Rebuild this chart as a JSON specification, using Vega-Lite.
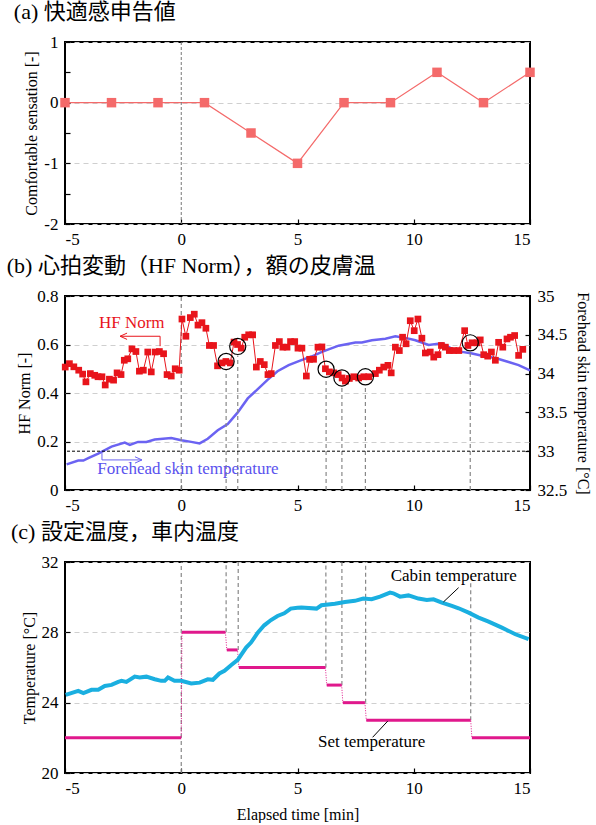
{
  "$schema": "https://vega.github.io/schema/vega-lite/v6.json",
  "padding": {"left": 5, "top": 0, "right": 0, "bottom": 0},
  "spacing": 6,
  "config": {
    "font": "Liberation Serif",
    "view": {"stroke": "black", "strokeWidth": 2},
    "axis": {
      "labelFont": "Liberation Serif", "labelFontSize": 17, "labelColor": "black",
      "titleFont": "Liberation Serif", "titleFontSize": 16, "titleFontWeight": "normal", "titleColor": "black",
      "domain": false, "tickColor": "black", "tickSize": -5, "tickWidth": 1.2, "labelPadding": 12,
      "gridColor": "#cfcfcf", "gridDash": [5, 4], "gridWidth": 1
    },
    "axisX": {"labelFont": "Liberation Serif"},
    "axisY": {"labelFont": "Liberation Serif"},
    "title": {"font": "'Liberation Serif', 'Noto Sans CJK JP'", "fontSize": 22, "fontWeight": "normal", "anchor": "start", "frame": "bounds", "offset": 9, "color": "black", "dx": -10}
  },
  "vconcat": [
    {
      "title": {"text": "(a) 快適感申告値"},
      "width": 465, "height": 182,
      "layer": [
        {
          "data": {"values": [{"t": -5, "v": 0}, {"t": -3, "v": 0}, {"t": -1, "v": 0}, {"t": 1, "v": 0}, {"t": 3, "v": -0.5}, {"t": 5, "v": -1}, {"t": 7, "v": 0}, {"t": 9, "v": 0}, {"t": 11, "v": 0.5}, {"t": 13, "v": 0}, {"t": 15, "v": 0.5}]},
          "mark": {"type": "line", "color": "#F46A6A", "strokeWidth": 1.2, "point": {"shape": "square", "size": 90, "filled": true, "color": "#F46A6A", "opacity": 1}},
          "encoding": {
            "x": {"field": "t", "type": "quantitative", "scale": {"domain": [-5, 15], "nice": false}, "axis": {"values": [-5, 0, 5, 10, 15], "labelExpr": "'' + datum.value", "labelFont": "Liberation Serif", "grid": false, "title": null}},
            "y": {"field": "v", "type": "quantitative", "scale": {"domain": [-2, 1], "nice": false}, "axis": {"values": [-2, -1.5, -1, -0.5, 0, 0.5, 1], "labelFont": "Liberation Serif", "labelExpr": "datum.value % 1 == 0 ? ('' + datum.value) : ''", "gridOpacity": {"condition": {"test": "datum.value % 1 != 0", "value": 0}, "value": 1}, "title": "Comfortable  sensation [-]"}}
          }
        },
        {
          "data": {"values": [{"t": 0}]},
          "mark": {"type": "rule", "color": "#777777", "strokeDash": [3, 2], "strokeWidth": 1},
          "encoding": {"x": {"field": "t", "type": "quantitative"}}
        }
      ]
    },
    {
      "title": {"text": "(b) 心拍変動（HF Norm），額の皮膚温"},
      "width": 465, "height": 194,
      "layer": [
        {
          "layer": [
            {
              "data": {"values": [
                {"t": -4.93, "f": 32.83}, {"t": -4.43, "f": 32.88}, {"t": -4.21, "f": 32.88}, {"t": -4.0, "f": 32.91}, {"t": -3.57, "f": 32.97},
                {"t": -3.0, "f": 33.06}, {"t": -2.43, "f": 33.11}, {"t": -2.21, "f": 33.08}, {"t": -1.86, "f": 33.12}, {"t": -1.5, "f": 33.12},
                {"t": -1.14, "f": 33.15}, {"t": -0.43, "f": 33.17}, {"t": 0.0, "f": 33.14}, {"t": 0.43, "f": 33.12}, {"t": 0.79, "f": 33.1},
                {"t": 1.14, "f": 33.16}, {"t": 1.57, "f": 33.27}, {"t": 2.0, "f": 33.35}, {"t": 2.43, "f": 33.5}, {"t": 2.86, "f": 33.68},
                {"t": 3.29, "f": 33.8}, {"t": 3.71, "f": 33.92}, {"t": 4.14, "f": 34.03}, {"t": 4.62, "f": 34.11}, {"t": 5.14, "f": 34.17},
                {"t": 5.6, "f": 34.22}, {"t": 6.05, "f": 34.28}, {"t": 6.77, "f": 34.36}, {"t": 7.49, "f": 34.4}, {"t": 7.77, "f": 34.4},
                {"t": 8.2, "f": 34.43}, {"t": 8.78, "f": 34.45}, {"t": 9.21, "f": 34.48}, {"t": 9.64, "f": 34.46}, {"t": 10.07, "f": 34.43},
                {"t": 10.64, "f": 34.37}, {"t": 11.21, "f": 34.39}, {"t": 11.65, "f": 34.32}, {"t": 12.08, "f": 34.28}, {"t": 12.51, "f": 34.26},
                {"t": 12.94, "f": 34.23}, {"t": 13.51, "f": 34.2}, {"t": 14.08, "f": 34.15}, {"t": 14.51, "f": 34.11}, {"t": 15.0, "f": 34.04}
              ]},
              "mark": {"type": "line", "color": "#6B63F2", "strokeWidth": 2.5},
              "encoding": {
                "x": {"field": "t", "type": "quantitative", "scale": {"domain": [-5, 15], "nice": false}, "axis": {"values": [-5, 0, 5, 10, 15], "labelFont": "Liberation Serif", "labelExpr": "'' + datum.value", "grid": false, "title": null}},
                "y": {"field": "f", "type": "quantitative", "scale": {"domain": [32.5, 35], "nice": false, "zero": false}, "axis": {"orient": "right", "values": [32.5, 33, 33.5, 34, 34.5, 35], "labelFont": "Liberation Serif", "labelExpr": "'' + datum.value", "grid": false, "titlePadding": 8, "title": "Forehead  skin  temperature [°C]"}}
              }
            }
          ]
        },
        {
          "layer": [
            {
              "data": {"values": [{"t": 0, "y1": 0, "y2": 0.8}, {"t": 1.93, "y1": 0, "y2": 0.493}, {"t": 2.43, "y1": 0, "y2": 0.555}, {"t": 6.23, "y1": 0, "y2": 0.461}, {"t": 6.91, "y1": 0, "y2": 0.425}, {"t": 7.92, "y1": 0, "y2": 0.43}, {"t": 12.43, "y1": 0, "y2": 0.57}]},
              "mark": {"type": "rule", "color": "#888888", "strokeDash": [4, 3], "strokeWidth": 1.2},
              "encoding": {
                "x": {"field": "t", "type": "quantitative"},
                "y": {"field": "y1", "type": "quantitative", "scale": {"domain": [0, 0.8], "nice": false}, "axis": {"orient": "left", "values": [0, 0.1, 0.2, 0.3, 0.4, 0.5, 0.6, 0.7, 0.8], "labelFont": "Liberation Serif", "labelExpr": "'' + datum.value", "grid": true, "title": "HF Norm [-]"}},
                "y2": {"field": "y2"}
              }
            },
            {
              "data": {"values": [{"v": 0.16}]},
              "mark": {"type": "rule", "color": "black", "strokeDash": [3, 2], "strokeWidth": 1},
              "encoding": {"y": {"field": "v", "type": "quantitative"}}
            },
            {
              "data": {"values": [
                {"t": -4.99, "v": 0.507}, {"t": -4.81, "v": 0.521}, {"t": -4.62, "v": 0.508}, {"t": -4.41, "v": 0.494}, {"t": -4.24, "v": 0.478},
                {"t": -4.1, "v": 0.446}, {"t": -3.91, "v": 0.48}, {"t": -3.72, "v": 0.473}, {"t": -3.58, "v": 0.467}, {"t": -3.41, "v": 0.467},
                {"t": -3.27, "v": 0.433}, {"t": -3.09, "v": 0.457}, {"t": -2.91, "v": 0.453}, {"t": -2.76, "v": 0.483}, {"t": -2.59, "v": 0.476},
                {"t": -2.45, "v": 0.535}, {"t": -2.3, "v": 0.541}, {"t": -2.12, "v": 0.582}, {"t": -1.95, "v": 0.571}, {"t": -1.8, "v": 0.49},
                {"t": -1.63, "v": 0.494}, {"t": -1.44, "v": 0.569}, {"t": -1.29, "v": 0.487}, {"t": -1.12, "v": 0.569}, {"t": -0.94, "v": 0.571},
                {"t": -0.76, "v": 0.562}, {"t": -0.61, "v": 0.476}, {"t": -0.43, "v": 0.47}, {"t": -0.26, "v": 0.5}, {"t": -0.09, "v": 0.494},
                {"t": 0.03, "v": 0.705}, {"t": 0.2, "v": 0.634}, {"t": 0.39, "v": 0.711}, {"t": 0.56, "v": 0.725}, {"t": 0.72, "v": 0.68},
                {"t": 0.89, "v": 0.69}, {"t": 1.06, "v": 0.667}, {"t": 1.21, "v": 0.596}, {"t": 1.39, "v": 0.596}, {"t": 1.56, "v": 0.512},
                {"t": 1.75, "v": 0.524}, {"t": 1.92, "v": 0.53}, {"t": 2.11, "v": 0.524}, {"t": 2.27, "v": 0.61}, {"t": 2.42, "v": 0.6},
                {"t": 2.58, "v": 0.585}, {"t": 2.73, "v": 0.63}, {"t": 2.9, "v": 0.64}, {"t": 3.07, "v": 0.64}, {"t": 3.23, "v": 0.507},
                {"t": 3.4, "v": 0.53}, {"t": 3.57, "v": 0.517}, {"t": 3.73, "v": 0.476}, {"t": 3.87, "v": 0.48}, {"t": 4.05, "v": 0.596},
                {"t": 4.22, "v": 0.612}, {"t": 4.37, "v": 0.589}, {"t": 4.55, "v": 0.589}, {"t": 4.7, "v": 0.612}, {"t": 4.88, "v": 0.612},
                {"t": 5.02, "v": 0.585}, {"t": 5.19, "v": 0.585}, {"t": 5.38, "v": 0.47}, {"t": 5.52, "v": 0.539}, {"t": 5.69, "v": 0.539},
                {"t": 5.88, "v": 0.589}, {"t": 6.05, "v": 0.59}, {"t": 6.2, "v": 0.5}, {"t": 6.37, "v": 0.487}, {"t": 6.56, "v": 0.483},
                {"t": 6.75, "v": 0.476}, {"t": 6.92, "v": 0.462}, {"t": 7.06, "v": 0.449}, {"t": 7.23, "v": 0.46}, {"t": 7.42, "v": 0.467},
                {"t": 7.63, "v": 0.462}, {"t": 7.85, "v": 0.467}, {"t": 8.06, "v": 0.467}, {"t": 8.35, "v": 0.48}, {"t": 8.52, "v": 0.494},
                {"t": 8.71, "v": 0.507}, {"t": 8.89, "v": 0.514}, {"t": 9.03, "v": 0.483}, {"t": 9.21, "v": 0.589}, {"t": 9.38, "v": 0.575},
                {"t": 9.52, "v": 0.63}, {"t": 9.67, "v": 0.603}, {"t": 9.85, "v": 0.698}, {"t": 10.02, "v": 0.657}, {"t": 10.18, "v": 0.705},
                {"t": 10.35, "v": 0.626}, {"t": 10.5, "v": 0.565}, {"t": 10.71, "v": 0.569}, {"t": 10.86, "v": 0.548}, {"t": 11.04, "v": 0.558},
                {"t": 11.19, "v": 0.596}, {"t": 11.36, "v": 0.589}, {"t": 11.53, "v": 0.575}, {"t": 11.72, "v": 0.575}, {"t": 11.94, "v": 0.575},
                {"t": 12.19, "v": 0.657}, {"t": 12.33, "v": 0.596}, {"t": 12.51, "v": 0.607}, {"t": 12.72, "v": 0.607}, {"t": 12.86, "v": 0.619},
                {"t": 13.01, "v": 0.558}, {"t": 13.18, "v": 0.552}, {"t": 13.34, "v": 0.569}, {"t": 13.51, "v": 0.535}, {"t": 13.65, "v": 0.609},
                {"t": 13.83, "v": 0.589}, {"t": 14.01, "v": 0.623}, {"t": 14.16, "v": 0.63}, {"t": 14.34, "v": 0.637}, {"t": 14.51, "v": 0.555},
                {"t": 14.69, "v": 0.58}
              ]},
              "mark": {"type": "line", "color": "#E8141B", "strokeWidth": 1, "point": {"shape": "square", "size": 45, "filled": true, "color": "#E8141B", "opacity": 1}},
              "encoding": {
                "x": {"field": "t", "type": "quantitative"},
                "y": {"field": "v", "type": "quantitative"}
              }
            },
            {
              "data": {"values": [{"t": 1.93, "v": 0.53}, {"t": 2.43, "v": 0.592}, {"t": 6.23, "v": 0.498}, {"t": 6.91, "v": 0.462}, {"t": 7.92, "v": 0.467}, {"t": 12.43, "v": 0.607}]},
              "mark": {"type": "point", "shape": "circle", "size": 260, "filled": false, "stroke": "black", "strokeWidth": 1.2, "opacity": 1},
              "encoding": {
                "x": {"field": "t", "type": "quantitative"},
                "y": {"field": "v", "type": "quantitative"}
              }
            },
            {
              "data": {"values": [
                {"g": "hf", "o": 1, "t": -2.63, "v": 0.634}, {"g": "hf", "o": 2, "t": -0.91, "v": 0.634}, {"g": "hf", "o": 3, "t": -0.91, "v": 0.593},
                {"g": "hfh", "o": 1, "t": -2.33, "v": 0.647}, {"g": "hfh", "o": 2, "t": -2.63, "v": 0.634}, {"g": "hfh", "o": 3, "t": -2.33, "v": 0.621}
              ]},
              "mark": {"type": "line", "color": "#E8141B", "strokeWidth": 1},
              "encoding": {
                "x": {"field": "t", "type": "quantitative"},
                "y": {"field": "v", "type": "quantitative"},
                "detail": {"field": "g"},
                "order": {"field": "o"}
              }
            },
            {
              "data": {"values": [
                {"g": "fh", "o": 1, "t": -3.41, "v": 0.152}, {"g": "fh", "o": 2, "t": -3.41, "v": 0.124}, {"g": "fh", "o": 3, "t": -1.69, "v": 0.124},
                {"g": "fhh", "o": 1, "t": -1.99, "v": 0.137}, {"g": "fhh", "o": 2, "t": -1.69, "v": 0.124}, {"g": "fhh", "o": 3, "t": -1.99, "v": 0.111}
              ]},
              "mark": {"type": "line", "color": "#6B63F2", "strokeWidth": 1},
              "encoding": {
                "x": {"field": "t", "type": "quantitative"},
                "y": {"field": "v", "type": "quantitative"},
                "detail": {"field": "g"},
                "order": {"field": "o"}
              }
            },
            {
              "data": {"values": [{"t": -2.13, "v": 0.69, "label": "HF Norm", "c": "red"}, {"t": 0.29, "v": 0.087, "label": "Forehead  skin  temperature", "c": "blue"}]},
              "mark": {"type": "text", "font": "Liberation Serif", "fontSize": 17, "baseline": "middle", "align": "center"},
              "encoding": {
                "x": {"field": "t", "type": "quantitative"},
                "y": {"field": "v", "type": "quantitative"},
                "text": {"field": "label"},
                "color": {"field": "c", "type": "nominal", "scale": {"domain": ["red", "blue"], "range": ["#E8141B", "#5A52EE"]}, "legend": null}
              }
            }
          ]
        }
      ],
      "resolve": {"scale": {"y": "independent"}}
    },
    {
      "title": {"text": "(c) 設定温度，車内温度"},
      "width": 465, "height": 211,
      "layer": [
        {
          "data": {"values": [{"t": 0, "y1": 20, "y2": 32}, {"t": 1.93, "y1": 28, "y2": 32}, {"t": 2.45, "y1": 27, "y2": 32}, {"t": 6.22, "y1": 26, "y2": 32}, {"t": 6.91, "y1": 25, "y2": 32}, {"t": 7.93, "y1": 24, "y2": 32}, {"t": 12.45, "y1": 23, "y2": 30.8}]},
          "mark": {"type": "rule", "color": "#888888", "strokeDash": [4, 3], "strokeWidth": 1.2},
          "encoding": {
            "x": {"field": "t", "type": "quantitative", "scale": {"domain": [-5, 15], "nice": false}, "axis": {"values": [-5, 0, 5, 10, 15], "labelFont": "Liberation Serif", "labelExpr": "'' + datum.value", "grid": false, "title": "Elapsed  time [min]", "titlePadding": 10}},
            "y": {"field": "y1", "type": "quantitative", "scale": {"domain": [20, 32], "nice": false, "zero": false}, "axis": {"values": [20, 22, 24, 26, 28, 30, 32], "labelFont": "Liberation Serif", "grid": true, "title": "Temperature [°C]"}},
            "y2": {"field": "y2"}
          }
        },
        {
          "data": {"values": [
            {"o": 1, "t": -5, "s": 22}, {"o": 2, "t": 0, "s": 22}, {"o": 3, "t": 0.03, "s": 28}, {"o": 4, "t": 1.9, "s": 28}, {"o": 5, "t": 1.96, "s": 27},
            {"o": 6, "t": 2.42, "s": 27}, {"o": 7, "t": 2.48, "s": 26}, {"o": 8, "t": 6.2, "s": 26}, {"o": 9, "t": 6.26, "s": 25}, {"o": 10, "t": 6.9, "s": 25},
            {"o": 11, "t": 6.95, "s": 24}, {"o": 12, "t": 7.9, "s": 24}, {"o": 13, "t": 7.96, "s": 23}, {"o": 14, "t": 12.45, "s": 23}, {"o": 15, "t": 12.5, "s": 22},
            {"o": 16, "t": 15, "s": 22}
          ]},
          "mark": {"type": "line", "color": "#E0188C", "strokeWidth": 1, "strokeDash": [1, 1.5]},
          "encoding": {
            "x": {"field": "t", "type": "quantitative"},
            "y": {"field": "s", "type": "quantitative"},
            "order": {"field": "o"}
          }
        },
        {
          "data": {"values": [
            {"a": -5, "b": 0, "s": 22}, {"a": 0.03, "b": 1.9, "s": 28}, {"a": 1.96, "b": 2.42, "s": 27}, {"a": 2.48, "b": 6.2, "s": 26},
            {"a": 6.26, "b": 6.9, "s": 25}, {"a": 6.95, "b": 7.9, "s": 24}, {"a": 7.96, "b": 12.45, "s": 23}, {"a": 12.5, "b": 15, "s": 22}
          ]},
          "mark": {"type": "rule", "color": "#E0188C", "strokeWidth": 3},
          "encoding": {
            "x": {"field": "a", "type": "quantitative"},
            "x2": {"field": "b"},
            "y": {"field": "s", "type": "quantitative"}
          }
        },
        {
          "data": {"values": [
            {"t": -4.97, "c": 24.44}, {"t": -4.43, "c": 24.67}, {"t": -4.21, "c": 24.54}, {"t": -3.86, "c": 24.73}, {"t": -3.57, "c": 24.73},
            {"t": -3.29, "c": 24.95}, {"t": -3.0, "c": 25.01}, {"t": -2.71, "c": 25.18}, {"t": -2.57, "c": 25.24}, {"t": -2.36, "c": 25.18},
            {"t": -2.0, "c": 25.48}, {"t": -1.79, "c": 25.43}, {"t": -1.5, "c": 25.48}, {"t": -1.14, "c": 25.33}, {"t": -0.86, "c": 25.24},
            {"t": -0.71, "c": 25.24}, {"t": -0.57, "c": 25.43}, {"t": -0.29, "c": 25.24}, {"t": 0.0, "c": 25.24}, {"t": 0.43, "c": 25.09},
            {"t": 0.79, "c": 25.14}, {"t": 1.14, "c": 25.33}, {"t": 1.36, "c": 25.3}, {"t": 1.64, "c": 25.66}, {"t": 1.86, "c": 25.81},
            {"t": 2.14, "c": 26.13}, {"t": 2.43, "c": 26.43}, {"t": 2.79, "c": 27.13}, {"t": 3.0, "c": 27.42}, {"t": 3.29, "c": 27.98},
            {"t": 3.57, "c": 28.4}, {"t": 3.86, "c": 28.7}, {"t": 4.14, "c": 28.93}, {"t": 4.43, "c": 29.08}, {"t": 4.71, "c": 29.35},
            {"t": 5.0, "c": 29.4}, {"t": 5.17, "c": 29.41}, {"t": 5.82, "c": 29.35}, {"t": 6.03, "c": 29.54}, {"t": 6.61, "c": 29.63},
            {"t": 7.04, "c": 29.73}, {"t": 7.47, "c": 29.79}, {"t": 7.83, "c": 29.92}, {"t": 8.19, "c": 29.88}, {"t": 8.55, "c": 30.03},
            {"t": 8.98, "c": 30.26}, {"t": 9.12, "c": 30.22}, {"t": 9.41, "c": 30.03}, {"t": 9.77, "c": 30.1}, {"t": 10.2, "c": 29.92},
            {"t": 10.56, "c": 29.84}, {"t": 10.85, "c": 29.88}, {"t": 11.21, "c": 29.69}, {"t": 11.64, "c": 29.5}, {"t": 11.93, "c": 29.37},
            {"t": 12.36, "c": 29.12}, {"t": 12.79, "c": 28.84}, {"t": 13.22, "c": 28.61}, {"t": 13.79, "c": 28.27}, {"t": 14.37, "c": 27.89},
            {"t": 14.94, "c": 27.61}
          ]},
          "mark": {"type": "line", "color": "#1AAFE0", "strokeWidth": 4},
          "encoding": {
            "x": {"field": "t", "type": "quantitative"},
            "y": {"field": "c", "type": "quantitative"}
          }
        },
        {
          "data": {"values": [{"t1": 11.93, "y1": 30.54, "t2": 11.28, "y2": 29.73}, {"t1": 8.23, "y1": 22.03, "t2": 8.88, "y2": 22.95}]},
          "mark": {"type": "rule", "color": "black", "strokeWidth": 1},
          "encoding": {
            "x": {"field": "t1", "type": "quantitative"},
            "x2": {"field": "t2"},
            "y": {"field": "y1", "type": "quantitative"},
            "y2": {"field": "y2"}
          }
        },
        {
          "data": {"values": [{"t": 11.72, "c": 31.22, "label": "Cabin  temperature"}, {"t": 8.19, "c": 21.74, "label": "Set  temperature"}]},
          "mark": {"type": "text", "font": "Liberation Serif", "fontSize": 17, "baseline": "middle", "align": "center", "color": "black"},
          "encoding": {
            "x": {"field": "t", "type": "quantitative"},
            "y": {"field": "c", "type": "quantitative"},
            "text": {"field": "label"}
          }
        }
      ]
    }
  ]
}
